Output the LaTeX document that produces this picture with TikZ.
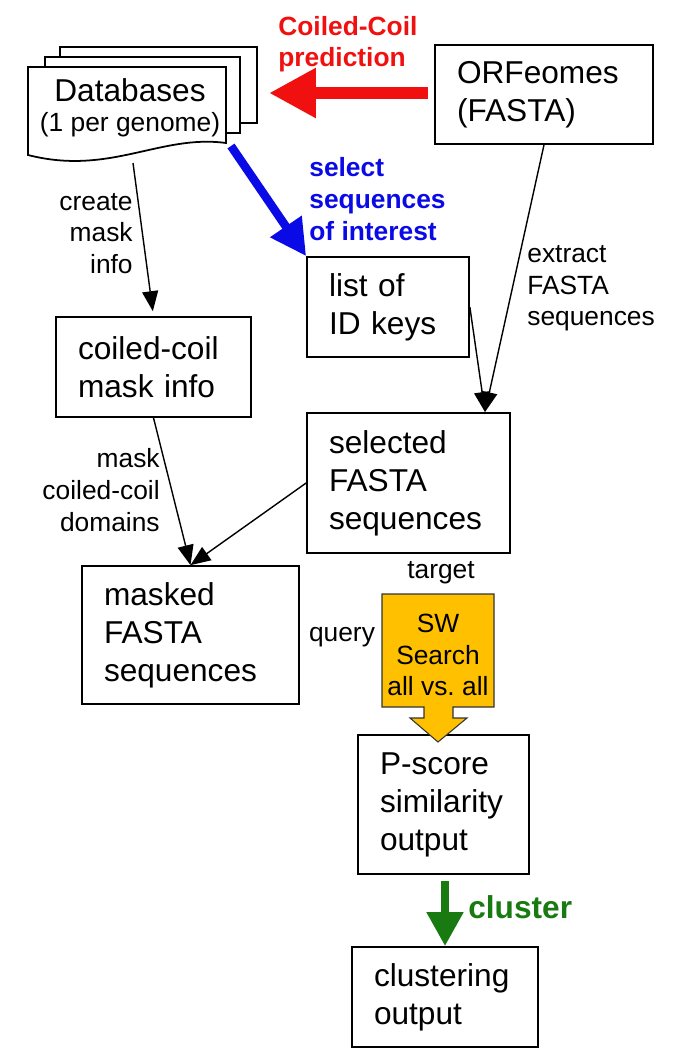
\documentclass[tikz,border=0pt]{standalone}
\usepackage{fontspec}
\setmainfont{Liberation Sans}
\usetikzlibrary{arrows.meta,positioning}
\definecolor{CcRed}{HTML}{F01010}
\definecolor{SelBlue}{HTML}{0A0AE6}
\definecolor{ClGreen}{HTML}{1A7A12}
\definecolor{SwGold}{HTML}{FFC000}
\newcommand{\bigtxt}{\fontsize{18}{21.6}\selectfont}
\newcommand{\lbltxt}{\fontsize{15}{18}\selectfont}
\hyphenpenalty=10000
\exhyphenpenalty=10000
\tikzset{
  box/.style={draw=black, line width=1pt, fill=white, align=left, inner xsep=0.44cm, inner ysep=0pt, font=\bigtxt},
  page/.style={draw=black, line width=1pt, fill=white},
  lbl/.style={font=\lbltxt, inner sep=0pt},
  boldlbl/.style={font=\lbltxt\bfseries, inner sep=0pt, align=left},
  arr/.style={-{Triangle[length=0.4cm,width=0.32cm]}, line width=0.8pt, draw=black},
  fatarr/.style={line width=#1}
}

\begin{document}
\begin{tikzpicture}[x=0.02cm,y=-0.02cm]
\useasboundingbox (0,0) rectangle (685,1056);
\draw[page] (60,47) rectangle (257,123);
\draw[page] (45,57) rectangle (240,133);
\draw[page] (28,67) -- (226,67) -- (226,143) .. controls (160,134) and (110,176) .. (28,155) -- cycle;
\node[font=\bigtxt, inner sep=0pt] (db) at (130,90) {Databases};
\node[lbl] (dbsub) at (130,125) {(1 per genome)};
\coordinate (dbtip) at (269,93);
\coordinate (dbse) at (231,146);
\coordinate (dbbot) at (133,163);

\node[box, text width=3.48cm, minimum height=1.98cm] (orf) at (544,94.5) {ORFeomes\\(FASTA)};
\node[box, text width=2.36cm, minimum height=2cm] (ids) at (388,307) {list of\\ID keys};
\node[box, text width=3.02cm, minimum height=2cm] (coil) at (153.5,367) {coiled-coil\\mask info};
\node[box, text width=3.18cm, minimum height=2.8cm] (sel) at (408.5,483) {selected\\FASTA\\sequences};
\node[box, text width=3.46cm, minimum height=2.76cm] (masked) at (190.5,635) {masked\\FASTA\\sequences};
\node[box, text width=2.54cm, minimum height=2.78cm] (pscore) at (443.5,804.5) {P-score\\similarity\\output};
\node[box, text width=2.84cm, minimum height=2cm] (clust) at (445,997) {clustering\\output};

\draw[draw=black!80, line width=0.6pt, fill=SwGold] (382,594) -- (494,594) -- (494,707) -- (453,707) -- (453,718) -- (467,718) -- (438,742) -- (410,718) -- (424,718) -- (424,707) -- (382,707) -- cycle;
\node[font=\lbltxt, align=center, inner sep=0pt] (sw) at (438,655) {SW\\Search\\all vs.\ all};

\node[boldlbl, text=CcRed, anchor=west] (lcc) at (278,44) {Coiled-Coil\\prediction};
\node[boldlbl, text=SelBlue, anchor=west] (lsel) at (309,199) {select\\sequences\\of interest};
\node[lbl, align=right, anchor=east] (lcreate) at (133,233.5) {create\\mask\\info};
\node[lbl, align=left, anchor=west] (lextract) at (527,288.5) {extract\\FASTA\\sequences};
\node[lbl, align=right, anchor=east] (lmask) at (160,490) {mask\\coiled-coil\\domains};
\node[lbl] (ltarget) at (441,573) {target};
\node[lbl] (lquery) at (342,637) {query};
\node[font=\bigtxt\bfseries, text=ClGreen, inner sep=0pt, anchor=west] (lcluster) at (468,907) {cluster};

\coordinate (selin) at (485,412);
\draw[fatarr=0.24cm, CcRed, -{Triangle[length=0.94cm,width=0.94cm]}, shorten <=0.12cm] (orf.west |- dbtip) -- (dbtip);
\draw[fatarr=0.17cm, SelBlue, -{Triangle[length=0.72cm,width=0.72cm]}] (dbse) -- (ids.north west);
\draw[arr, shorten >=0.1cm] (dbbot) -- (coil.north);
\draw[arr] (coil.south) -- (masked.north);
\draw[arr] (sel.west) -- (masked.north);
\draw[arr] (orf.south) -- (selin);
\draw[arr] (ids.east) -- (selin);
\draw[fatarr=0.16cm, ClGreen, -{Triangle[length=0.68cm,width=0.7cm]}, shorten <=0.12cm] (pscore.south -| clust.north) -- (clust.north);
\end{tikzpicture}
\end{document}
